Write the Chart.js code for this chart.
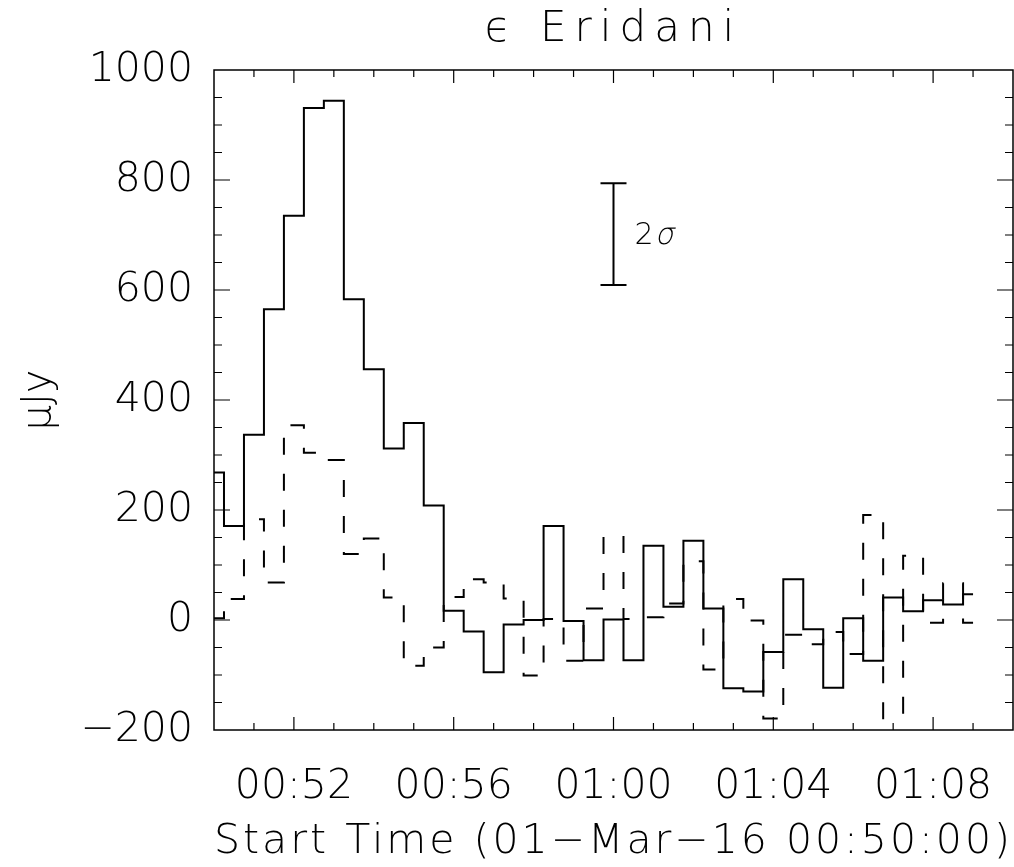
<!DOCTYPE html>
<html>
<head>
<meta charset="utf-8">
<script src="https://cdn.jsdelivr.net/npm/chart.js@4.4.1/dist/chart.umd.min.js"></script>
<style>
  html, body { margin: 0; padding: 0; background: #fff; }
  #wrap { width: 1014px; height: 867px; }
</style>
</head>
<body>
<div id="wrap"><canvas id="fluxChart" width="1014" height="867"></canvas></div>
<script>
// 30 s bins, minutes after 00:50:00
const binMinutes = [0, 0.5, 1, 1.5, 2, 2.5, 3, 3.5, 4, 4.5, 5, 5.5, 6, 6.5, 7, 7.5, 8, 8.5, 9, 9.5,
    10, 10.5, 11, 11.5, 12, 12.5, 13, 13.5, 14, 14.5, 15, 15.5, 16, 16.5, 17, 17.5, 18, 18.5, 19];

// flux (uJy), solid trace
const fluxSolid = [268, 171, 337, 565, 735, 931, 944, 583, 456, 312, 358, 208, 17, -21, -95, -8, 0, 171, -2, -73,
    1, -73, 135, 24, 144, 21, -124, -130, -58, 74, -17, -123, 3, -74, 41, 16, 36, 28, 47];

// flux (uJy), dashed trace
const fluxDashed = [3, 38, 183, 68, 354, 304, 291, 120, 148, 41, -83, -50, 42, 74, 68, 39, -101, 2, -74, 21,
    151, 2, 5, 30, 107, -90, 38, -1, -179, -27, -44, -22, -62, 191, -240, 117, -5, 67, -5];

const xTickMinutes = [2, 6, 10, 14, 18];
const xTickLabels = ['00:52', '00:56', '01:00', '01:04', '01:08'];
const yTickValues = [-200, 0, 200, 400, 600, 800, 1000];
const yTickLabels = ['\u2212200', '0', '200', '400', '600', '800', '1000'];

// 2 sigma error bar marker
const sigmaX = 10;
const sigmaLow = 609;
const sigmaHigh = 794;

const FONT = '"DejaVu Sans", sans-serif';
const THIN = 200;

// run a draw method with wider letter spacing (Hershey-like look)
function spaced(chart, obj, method, spacing) {
    const orig = obj[method].bind(obj);
    obj[method] = function (...args) {
        const c = chart.ctx;
        c.save();
        c.letterSpacing = spacing;
        orig(...args);
        c.restore();
    };
}

// IDL style box: frame + inward ticks on all four sides, plus the 2 sigma bar
const boxPlugin = {
    id: 'idlBox',
    beforeDraw(chart) {
        if (chart.$spaced) return;
        spaced(chart, chart.titleBlock, 'draw', '8px');
        spaced(chart, chart.scales.x, 'drawTitle', '3px');
        chart.$spaced = true;
    },
    afterDatasetsDraw(chart) {
        const { ctx, chartArea: a, scales: { x, y } } = chart;
        ctx.save();
        ctx.strokeStyle = '#000';
        ctx.lineWidth = 1.5;
        ctx.strokeRect(a.left, a.top, a.right - a.left, a.bottom - a.top);

        ctx.lineWidth = 1.2;
        ctx.beginPath();
        for (let m = 1; m < 20; m++) {
            const px = x.getPixelForValue(m);
            const len = xTickMinutes.includes(m) ? 13 : 7;
            ctx.moveTo(px, a.bottom); ctx.lineTo(px, a.bottom - len);
            ctx.moveTo(px, a.top); ctx.lineTo(px, a.top + len);
        }
        for (let v = -150; v < 1000; v += 50) {
            const py = y.getPixelForValue(v);
            const len = v % 200 === 0 ? 16 : 8;
            ctx.moveTo(a.left, py); ctx.lineTo(a.left + len, py);
            ctx.moveTo(a.right, py); ctx.lineTo(a.right - len, py);
        }
        ctx.stroke();

        // error bar
        const sx = x.getPixelForValue(sigmaX);
        const yTop = y.getPixelForValue(sigmaHigh);
        const yBot = y.getPixelForValue(sigmaLow);
        ctx.lineWidth = 2;
        ctx.beginPath();
        ctx.moveTo(sx, yTop); ctx.lineTo(sx, yBot);
        ctx.moveTo(sx - 13, yTop); ctx.lineTo(sx + 13, yTop);
        ctx.moveTo(sx - 13, yBot); ctx.lineTo(sx + 13, yBot);
        ctx.stroke();
        ctx.fillStyle = '#000';
        ctx.textAlign = 'left';
        ctx.textBaseline = 'middle';
        const ty = y.getPixelForValue((sigmaLow + sigmaHigh) / 2) + 2;
        ctx.font = THIN + ' 30px ' + FONT;
        ctx.fillText('2', sx + 21, ty);
        const w2 = ctx.measureText('2').width;
        // slanted sigma, same thin weight
        ctx.translate(sx + 24 + w2, ty);
        ctx.transform(1, 0, -0.22, 1, 0, 0);
        ctx.fillText('\u03c3', 0, 0);
        ctx.restore();
    }
};

const toPoints = (vals) => binMinutes.map((t, i) => ({ x: t, y: vals[i] }));

new Chart(document.getElementById('fluxChart'), {
    type: 'line',
    data: {
        datasets: [{
            label: 'solid',
            data: toPoints(fluxSolid),
            borderColor: '#000', borderWidth: 2, stepped: 'middle',
            pointRadius: 0, fill: false
        }, {
            label: 'dashed',
            data: toPoints(fluxDashed),
            borderColor: '#000', borderWidth: 2, stepped: 'middle', borderDash: [17, 19],
            pointRadius: 0, fill: false
        }]
    },
    options: {
        responsive: false, animation: false,
        layout: { autoPadding: false, padding: { top: 0, right: 1, bottom: 0, left: 0 } },
        plugins: {
            legend: { display: false },
            tooltip: { enabled: false },
            title: {
                display: true, fullSize: false, text: '\u03f5 Eridani', color: '#000',
                font: { family: FONT, size: 42, weight: THIN, lineHeight: 1.2 },
                padding: { top: 5, bottom: 14.6 }
            }
        },
        scales: {
            x: {
                type: 'linear', min: 0, max: 20,
                grid: { display: false, drawTicks: false }, border: { display: false },
                afterBuildTicks: (s) => { s.ticks = xTickMinutes.map(v => ({ value: v })); },
                afterFit: (s) => { s.height = 137; s.paddingLeft = 0; s.paddingRight = 0; },
                ticks: {
                    autoSkip: false, maxRotation: 0, padding: 33, color: '#000',
                    font: { family: FONT, size: 41, weight: THIN },
                    callback: (v) => xTickLabels[xTickMinutes.indexOf(v)]
                },
                title: {
                    display: true, text: 'Start Time (01\u2212Mar\u221216 00:50:00)', color: '#000',
                    font: { family: FONT, size: 41, weight: THIN, lineHeight: 1.2 },
                    padding: { top: 6, bottom: 0 }
                }
            },
            y: {
                min: -200, max: 1000,
                grid: { display: false, drawTicks: false }, border: { display: false },
                afterBuildTicks: (s) => { s.ticks = yTickValues.map(v => ({ value: v })); },
                afterFit: (s) => { s.width = 214; s.paddingTop = 0; s.paddingBottom = 0; },
                ticks: {
                    autoSkip: false, padding: 21, color: '#000',
                    font: { family: FONT, size: 41, weight: THIN },
                    callback: (v) => yTickLabels[yTickValues.indexOf(v)]
                },
                title: {
                    display: true, text: '\u03bcJy', color: '#000',
                    font: { family: FONT, size: 40, weight: THIN, lineHeight: 1.2 },
                    padding: { top: 16, bottom: 0 }
                }
            }
        }
    },
    plugins: [boxPlugin]
});
</script>
</body>
</html>
